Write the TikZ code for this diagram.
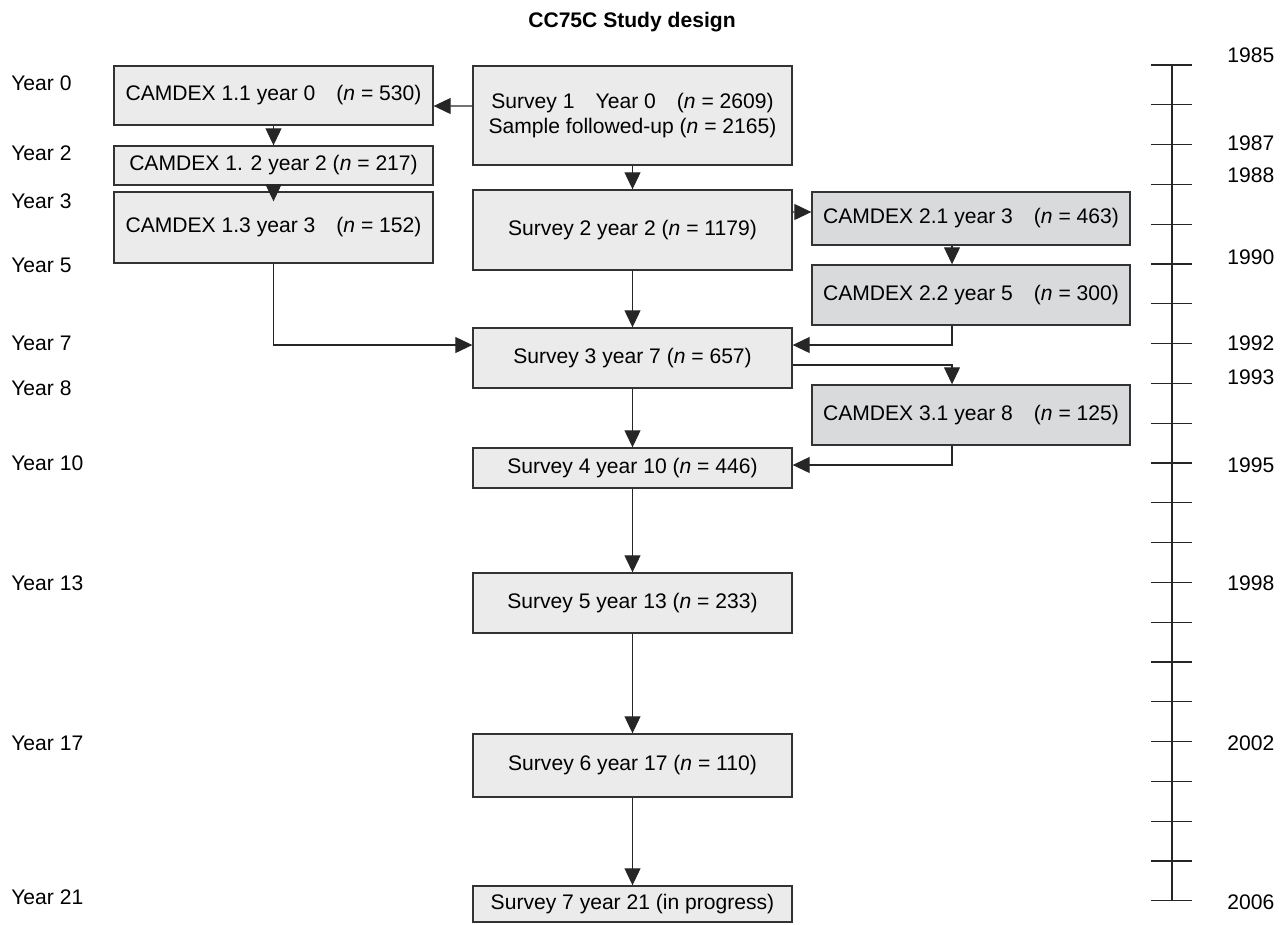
\documentclass[tikz,border=0pt]{standalone}
\usepackage{fontspec}
\setmainfont{Liberation Sans}
\usetikzlibrary{arrows.meta, positioning, calc}

\definecolor{boxlight}{HTML}{EBEBEC}
\definecolor{boxdark}{HTML}{D9DADB}
\definecolor{boxline}{HTML}{333333}

\begin{document}
\begin{tikzpicture}[
    x=0.02cm, y=-0.02cm,
    txt/.style={font=\fontsize{12}{14.5}\selectfont},
    survey/.style={rectangle, draw=boxline, line width=0.8pt, fill=boxlight, inner sep=0pt, minimum width=6.38cm, align=center, txt},
    camdex/.style={survey, fill=boxdark, minimum width=6.36cm},
    yearlabel/.style={txt, anchor=west, inner sep=0pt},
    arrow/.style={-{Triangle[length=0.34cm, width=0.32cm]}, line width=0.6pt, color=black!85},
    axisline/.style={line width=0.6pt, color=black!85}
]
    \useasboundingbox (0,0) rectangle (1285,924);

    % --- Title ---
    \node[font=\fontsize{12}{14}\selectfont\bfseries] (title) at (632,22) {CC75C Study design};

    % --- CAMDEX 1 (left column) ---
    \node[survey, minimum height=1.18cm] (c11) at (273.5,95.5) {CAMDEX 1.1 year 0\quad(\textit{n} = 530)};
    \node[survey, minimum height=0.78cm] (c12) at (273.5,165.5) {CAMDEX 1. 2 year 2 (\textit{n} = 217)};
    \node[survey, minimum height=1.42cm] (c13) at (273.5,227.5) {CAMDEX 1.3 year 3\quad(\textit{n} = 152)};

    % --- Surveys (middle column) ---
    \node[survey, minimum height=1.98cm] (s1) at (632.5,115.5) {Survey 1\quad Year 0\quad(\textit{n} = 2609)\\Sample followed-up (\textit{n} = 2165)};
    \node[survey, minimum height=1.6cm] (s2) at (632.5,230) {Survey 2 year 2 (\textit{n} = 1179)};
    \node[survey, minimum height=1.2cm] (s3) at (632.5,358) {Survey 3 year 7 (\textit{n} = 657)};
    \node[survey, minimum height=0.8cm] (s4) at (632.5,468) {Survey 4 year 10 (\textit{n} = 446)};
    \node[survey, minimum height=1.2cm] (s5) at (632.5,603) {Survey 5 year 13 (\textit{n} = 233)};
    \node[survey, minimum height=1.26cm] (s6) at (632.5,765.5) {Survey 6 year 17 (\textit{n} = 110)};
    \node[survey, minimum height=0.72cm] (s7) at (632.5,904) {Survey 7 year 21 (in progress)};

    % --- CAMDEX 2 and 3 (right column) ---
    \node[camdex, minimum height=1.06cm] (c21) at (971,218.5) {CAMDEX 2.1 year 3\quad(\textit{n} = 463)};
    \node[camdex, minimum height=1.2cm] (c22) at (971,295) {CAMDEX 2.2 year 5\quad(\textit{n} = 300)};
    \node[camdex, minimum height=1.2cm] (c31) at (971,415) {CAMDEX 3.1 year 8\quad(\textit{n} = 125)};

    % --- Study years (left) ---
    \foreach \yr/\ypos in {0/83, 2/153, 3/201, 5/265, 7/343, 8/388, 10/463, 13/583, 17/743, 21/897}
        \node[yearlabel] (year-\yr) at (11,\ypos) {Year \yr};

    % --- Calendar scale (right) ---
    \foreach \k in {0,...,21} {
        \coordinate (tick-\k) at (1172,{65+39.8*\k});
        \draw[axisline] ([xshift=-0.42cm]tick-\k) -- ([xshift=0.4cm]tick-\k);
    }
    \draw[axisline] (tick-0) -- (tick-21);
    \foreach \cal/\ypos in {1985/55, 1987/143, 1988/175, 1990/257, 1992/343, 1993/377, 1995/465, 1998/583, 2002/743, 2006/902}
        \node[yearlabel] (cal-\cal) at (1227,\ypos) {\cal};

    % --- Connections ---
    % CAMDEX 1
    \draw[arrow] ([yshift=0.19cm]s1.west) -- ([yshift=-0.21cm]c11.east);
    \draw[arrow] (c11.south) -- (c12.north);
    \draw[arrow] (c12.south) -- ([yshift=-0.2cm]c13.north);
    \draw[arrow] (c13.south) |- ([yshift=0.26cm]s3.west);

    % Surveys
    \draw[arrow] (s1.south) -- (s2.north);
    \draw[arrow] (s2.south) -- (s3.north);
    \draw[arrow] (s3.south) -- (s4.north);
    \draw[arrow] (s4.south) -- (s5.north);
    \draw[arrow] (s5.south) -- (s6.north);
    \draw[arrow] (s6.south) -- (s7.north);

    % CAMDEX 2 and 3
    \draw[arrow] ([yshift=0.36cm]s2.east) -- ([yshift=0.13cm]c21.west);
    \draw[arrow] ([xshift=-0.38cm]c21.south) -- ([xshift=-0.38cm]c22.north);
    \draw[arrow] ([xshift=-0.38cm]c22.south) |- ([yshift=0.26cm]s3.east);
    \draw[arrow] ([yshift=-0.14cm]s3.east) -| ([xshift=-0.38cm]c31.north);
    \draw[arrow] ([xshift=-0.38cm]c31.south) |- ([yshift=0.06cm]s4.east);

\end{tikzpicture}
\end{document}
